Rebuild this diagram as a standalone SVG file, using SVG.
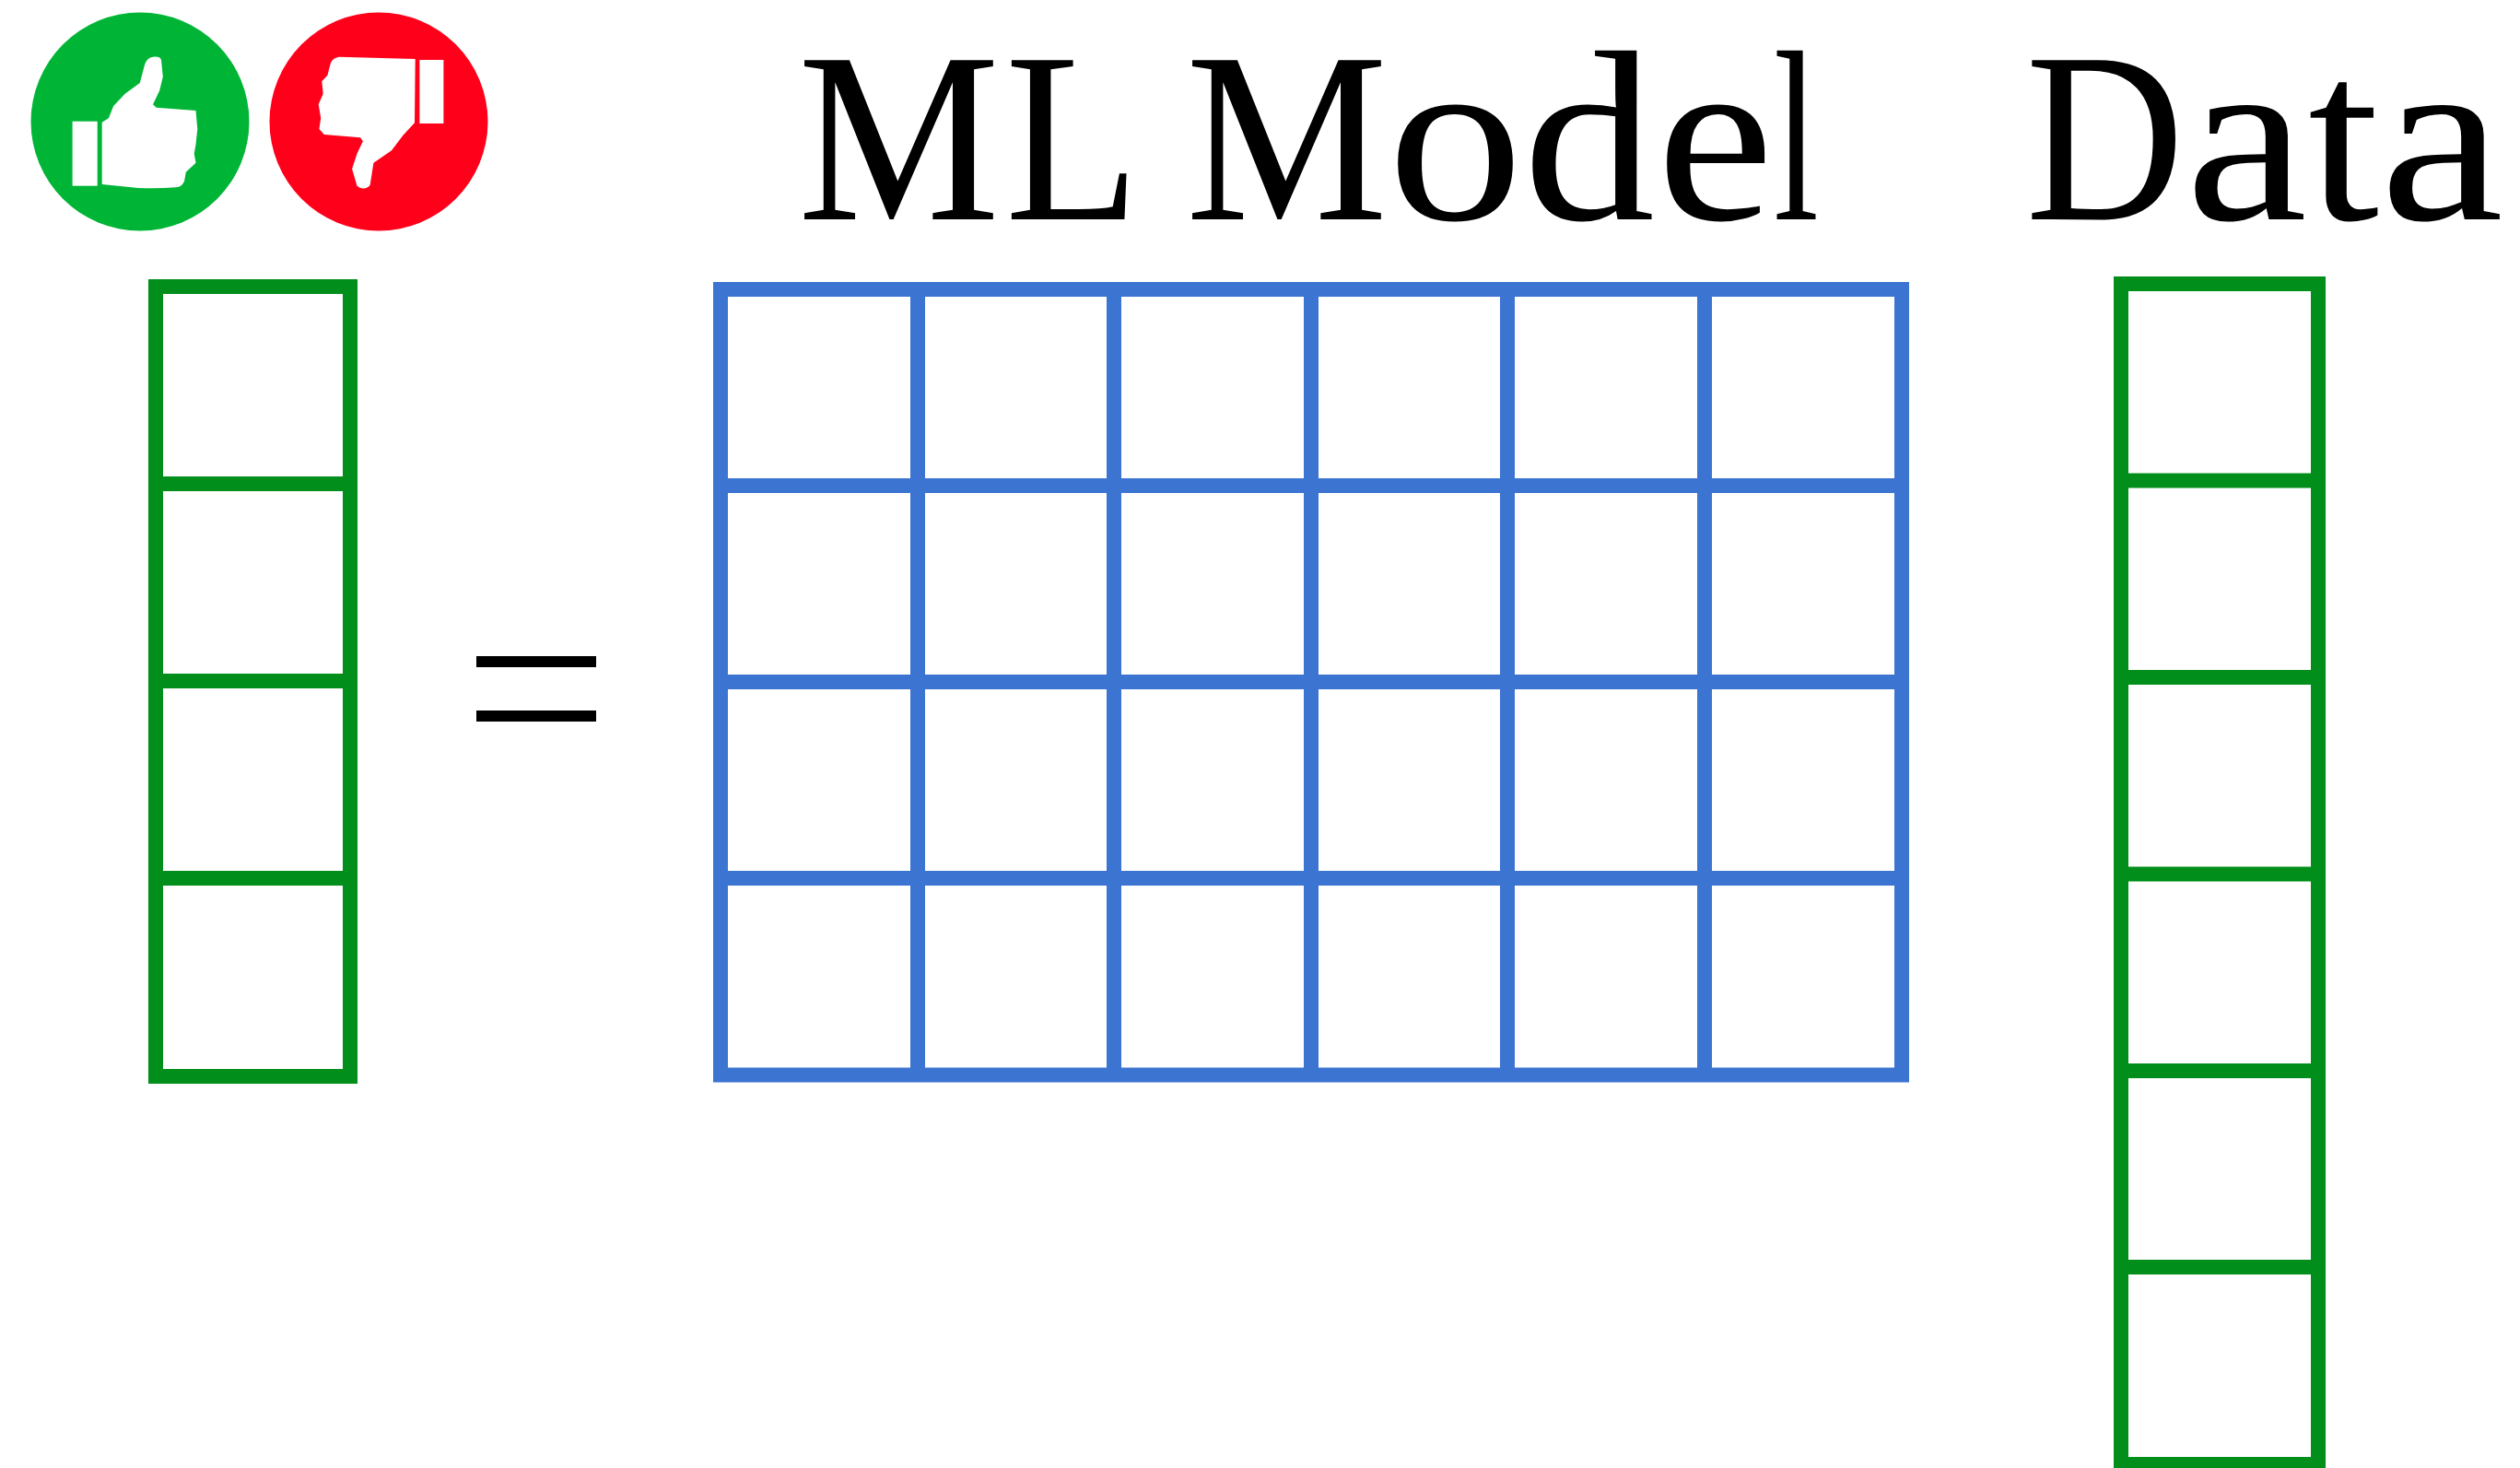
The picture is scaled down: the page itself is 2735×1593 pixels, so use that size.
<svg xmlns="http://www.w3.org/2000/svg" width="2735" height="1593" viewBox="0 0 2735 1593">
<style>
.g{stroke:#018e1a;stroke-width:16;fill:none}
.b{stroke:#3c74d2;stroke-width:16;fill:none}
.t{font-family:"Liberation Serif",serif;fill:#000;font-size:264px}
.w{fill:#fff}
</style>
<rect width="2735" height="1593" fill="#fff"/>
<g id="thumbs-up">
<circle cx="152" cy="132" r="118.5" fill="#00b536"/>
<rect class="w" x="78.6" y="131.7" width="27.1" height="70"/>
<path class="w" d="M110.7 132.7L117.9 128.3L123.2 115L135.7 101.7L151.8 90L157.1 70Q160 62 166 61.7Q174 61 175 65L176.8 83.3L173.2 98.3L166 113.3L169.6 116.7L212.5 120L214.3 140L212.5 156.7L210.7 166.7L212.5 176.7L201.8 186.7L200 196.7Q197 203 191 203.3Q170 205 150 204L110.7 200Z"/>
</g>
<g id="thumbs-down">
<circle cx="411" cy="132" r="118.5" fill="#ff001b"/>
<rect class="w" x="455.4" y="65" width="26" height="69"/>
<path class="w" d="M450.7 64L367.9 61.7Q361 63 358.9 68.3L355.4 81.7L349.3 88.3L350.7 101.7L345.7 113.3L348.2 128.3L346.4 140L351.8 146L391 149.3L393.9 153.3L387.5 166.7L382.1 183.3L387.5 201.7Q391 205 396.4 204.3Q401 203 401.8 200L405.4 176.7L425 163.3L437.5 146.7L450 133.3Z"/>
</g>
<g id="result-vector">
<path class="g" d="M161 311H388M161 525H388M161 739H388M161 953H388M161 1168H388M169 303V1176M380 303V1176"/>
</g>
<g id="equals">
<rect x="517" y="712" width="130" height="12"/>
<rect x="517" y="771" width="130" height="12"/>
</g>
<g id="model-matrix">
<path class="b" d="M774 314H2072M774 527H2072M774 740H2072M774 953H2072M774 1166.5H2072M782 306V1174.5M996 306V1174.5M1209 306V1174.5M1423 306V1174.5M1636 306V1174.5M1850 306V1174.5M2064 306V1174.5"/>
</g>
<g id="data-vector">
<path class="g" d="M2294 308H2524M2294 521.5H2524M2294 735H2524M2294 948.5H2524M2294 1162H2524M2294 1375H2524M2294 1589H2524M2302 300V1597M2516 300V1597"/>
</g>
<text id="label-model" class="t" y="238"><tspan x="866" textLength="219" lengthAdjust="spacingAndGlyphs">M</tspan><tspan x="1091" textLength="137" lengthAdjust="spacingAndGlyphs">L</tspan> <tspan x="1287" textLength="219" lengthAdjust="spacingAndGlyphs">M</tspan><tspan x="1506" textLength="147" lengthAdjust="spacingAndGlyphs">o</tspan><tspan x="1653" textLength="143" lengthAdjust="spacingAndGlyphs">d</tspan><tspan x="1798" textLength="127" lengthAdjust="spacingAndGlyphs">e</tspan><tspan x="1925" textLength="49" lengthAdjust="spacingAndGlyphs">l</tspan></text>
<text id="label-data" class="t" y="238"><tspan x="2198.5" textLength="172" lengthAdjust="spacingAndGlyphs">D</tspan><tspan x="2372" textLength="132" lengthAdjust="spacingAndGlyphs">a</tspan><tspan x="2505" textLength="77" lengthAdjust="spacingAndGlyphs">t</tspan><tspan x="2583" textLength="134" lengthAdjust="spacingAndGlyphs">a</tspan></text>
</svg>
